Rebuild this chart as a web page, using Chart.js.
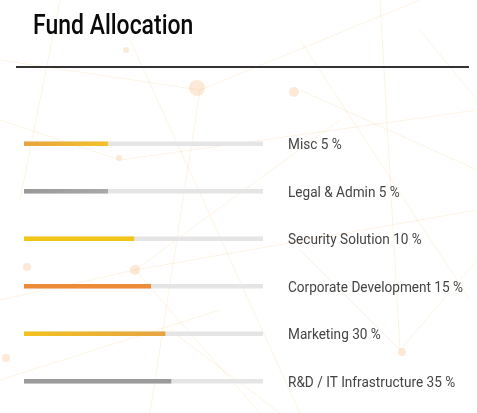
<!DOCTYPE html>
<html>
<head>
<meta charset="utf-8">
<script src="https://cdn.jsdelivr.net/npm/chart.js@4"></script>
<style>
  html, body { margin: 0; padding: 0; background: #fff; }
  #wrap { position: relative; width: 477px; height: 413px; overflow: hidden; }
  #titulo {
    position: absolute; left: 33px; top: 9px; margin: 0;
    font-family: Roboto, sans-serif; white-space: nowrap;
    font-size: 27px; font-weight: 500; color: #0a0a0a;
    transform-origin: 0 0;
  }
  #regua { position: absolute; left: 16px; top: 66px; width: 453px; height: 2px; background: #333; }
  #grafico { position: absolute; left: 0; top: 0; }
</style>
</head>
<body>
<div id="wrap">
  <canvas id="grafico" width="477" height="413"></canvas>
  <h1 id="titulo">Fund Allocation</h1>
  <div id="regua"></div>
</div>
<script>
// Dados do gráfico
var categorias = ["Misc", "Legal & Admin", "Security Solution", "Corporate Development", "Marketing", "R&D / IT Infrastructure"];
var percentagens = [5, 5, 10, 15, 30, 35];
// comprimento visível de cada barra (em % da trilha)
var preenchimento = [35, 35, 46, 53, 59, 61.5];
var trilha = [100, 100, 100, 100, 100, 100];
var cores = [
    ["#e8a33e", "#f2c22c"],
    ["#999999", "#a9a9a9"],
    ["#f1c618", "#f1c618"],
    ["#ee8b38", "#ee8b38"],
    ["#f2c21e", "#e6a442"],
    ["#9b9b9b", "#9b9b9b"]
];

// Título condensado (fonte estreita)
var titulo = document.getElementById("titulo");
titulo.style.transform = "scaleX(" + (160 / titulo.offsetWidth) + ")";

// Fundo com rede decorativa
var fundoRede = {
    id: "fundoRede",
    beforeDraw: function (chart) {
        var ctx = chart.ctx;
        ctx.save();
        ctx.strokeStyle = "rgba(240, 180, 90, 0.16)";
        ctx.lineWidth = 1;
        var linhas = [
            [0, 60, 200, 90], [200, 90, 420, 0], [200, 90, 150, 413], [130, 40, 300, 413],
            [300, 90, 477, 170], [120, 160, 477, 110], [300, 40, 470, 300], [0, 300, 135, 270],
            [135, 270, 340, 120], [135, 270, 477, 210], [135, 270, 260, 413], [400, 350, 477, 260],
            [400, 350, 300, 250], [0, 380, 220, 310], [170, 330, 280, 413], [420, 30, 477, 100],
            [60, 0, 20, 200], [380, 0, 400, 350], [0, 120, 120, 160]
        ];
        linhas.forEach(function (l) {
            ctx.beginPath();
            ctx.moveTo(l[0], l[1]);
            ctx.lineTo(l[2], l[3]);
            ctx.stroke();
        });
        ctx.fillStyle = "rgba(245, 175, 110, 0.28)";
        [[197, 88, 8], [294, 92, 5], [126, 50, 3], [27, 267, 4], [135, 270, 5], [6, 358, 4], [402, 352, 4], [119, 158, 3]].forEach(function (p) {
            ctx.beginPath();
            ctx.arc(p[0], p[1], p[2], 0, Math.PI * 2);
            ctx.fill();
        });
        ctx.restore();
    }
};

// Rótulos à direita das barras
var rotulos = {
    id: "rotulos",
    afterDatasetsDraw: function (chart) {
        var ctx = chart.ctx;
        var y = chart.scales.y;
        var x0 = chart.chartArea.right + 25;
        ctx.save();
        ctx.font = "14px Roboto, sans-serif";
        ctx.fillStyle = "#444";
        ctx.textBaseline = "middle";
        ctx.textAlign = "left";
        // condensa o texto para parecer com a fonte original
        var ref = ctx.measureText("Corporate Development 15 %").width;
        var k = 175 / ref;
        ctx.translate(x0, 0);
        ctx.scale(k, 1);
        categorias.forEach(function (c, i) {
            ctx.fillText(c + " " + percentagens[i] + " %", 0, y.getPixelForValue(i) + 2);
        });
        ctx.restore();
    }
};

function gradiente(context) {
    var chart = context.chart;
    var area = chart.chartArea;
    if (!area) return cores[context.dataIndex][0];
    var par = cores[context.dataIndex];
    var x1 = chart.scales.x.getPixelForValue(preenchimento[context.dataIndex]);
    var g = chart.ctx.createLinearGradient(area.left, 0, x1, 0);
    g.addColorStop(0, par[0]);
    g.addColorStop(1, par[1]);
    return g;
}

new Chart(document.getElementById("grafico").getContext("2d"), {
    type: "bar",
    data: {
        labels: categorias,
        datasets: [{
            label: "Preenchimento",
            data: preenchimento,
            backgroundColor: gradiente,
            barThickness: 4,
            grouped: false,
            order: 1
        }, {
            label: "Trilha",
            data: trilha,
            backgroundColor: "#e5e5e5",
            barThickness: 4,
            grouped: false,
            order: 2
        }]
    },
    options: {
        indexAxis: "y",
        responsive: false,
        animation: false,
        events: [],
        layout: { padding: { left: 24, right: 214, top: 120, bottom: 8 } },
        scales: {
            x: { display: false, min: 0, max: 100 },
            y: { display: false }
        },
        plugins: {
            legend: { display: false },
            tooltip: { enabled: false }
        }
    },
    plugins: [fundoRede, rotulos]
});
</script>
</body>
</html>
